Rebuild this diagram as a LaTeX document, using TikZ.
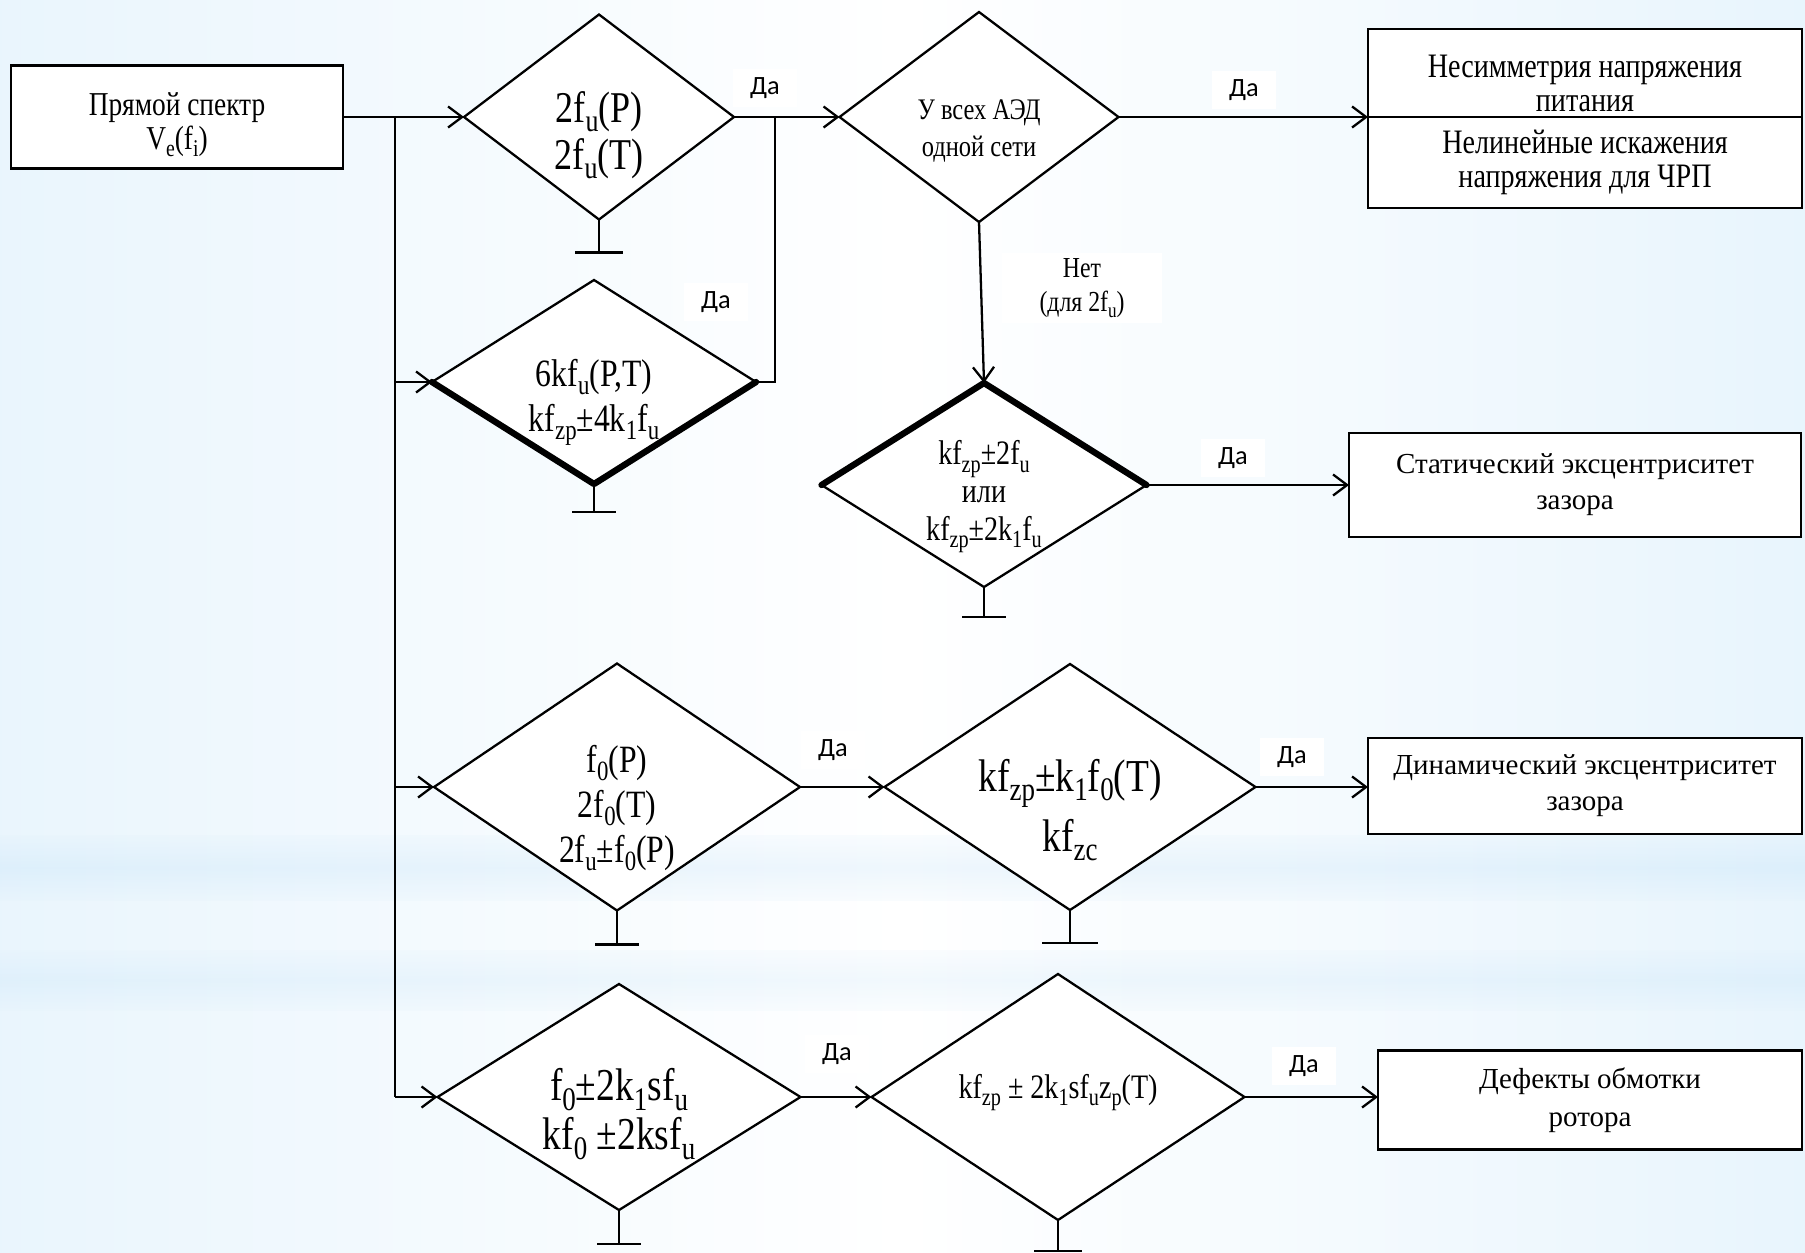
\documentclass[tikz,border=0pt]{standalone}
\usepackage{fontspec}
\setmainfont{Liberation Serif}
\newfontfamily\condfont[FakeStretch=0.82]{Liberation Serif}
\newfontfamily\dafont{Carlito}
\usetikzlibrary{arrows.meta,shapes.geometric,calc}
\newlength\pxu
\setlength\pxu{0.02cm}
\newcommand\sub[1]{\raisebox{-0.45ex}{\scalebox{0.72}{#1}}}
\newcommand\fsz[2]{\fontsize{#1}{#2}\selectfont}
\definecolor{bgblue}{RGB}{166,212,245}
\definecolor{bgpale}{RGB}{224,241,252}
\pgfdeclarehorizontalshading{bgside}{100bp}{color(0bp)=(bgblue); color(14bp)=(bgpale); color(50bp)=(white); color(84bp)=(bgpale); color(100bp)=(bgblue)}
\tikzset{
    dia/.style={draw, diamond, line width=1.3pt, fill=white, inner sep=0pt, outer sep=0pt, aspect=1.4},
    dtext/.style={align=center, inner sep=0pt},
    box/.style={draw, rectangle, line width=1.6pt, fill=white, inner sep=0pt, outer sep=0pt, align=center},
    yes/.style={fill=white, font=\dafont\fsz{15}{18}, minimum width=64\pxu, minimum height=38\pxu, inner sep=0pt},
    link/.style={line width=1.3pt},
    arr/.style={line width=1.3pt, -{Straight Barb[length=8pt, width=12pt]}},
    heavy/.style={line width=3.6pt, line cap=round, line join=round},
    ground/.style={line width=1.5pt}
}

\begin{document}
\begin{tikzpicture}[x=0.02cm, y=-0.02cm]
    % background
    \shade[shading=bgside] (0,0) rectangle (1805,1252);
    \shade[top color=bgpale, bottom color=bgpale, middle color=bgblue, opacity=0.18] (0,835) rectangle (1805,900);
    \shade[top color=bgpale, bottom color=bgpale, middle color=bgblue, opacity=0.15] (0,950) rectangle (1805,1010);
    \useasboundingbox (0,0) rectangle (1805,1252);

    % input
    \node[box, minimum width=332\pxu, minimum height=103\pxu, font=\condfont\fsz{19}{19.5}] (start) at (177,117) {\rule{0pt}{22pt}Прямой спектр\\V\sub{e}(f\sub{i})};

    % row 1
    \node[dia, minimum width=270\pxu, minimum height=205\pxu] (d1) at (599,117) {};
    \node[dtext, font=\condfont\fsz{25}{27}] (d1t) at ([yshift=-18\pxu]d1.center) {2f\sub{u}(P)\\2f\sub{u}(T)};
    \node[dia, minimum width=279\pxu, minimum height=210\pxu] (d2) at (979,117) {};
    \node[dtext, font=\condfont\fsz{17}{21.6}] (d2t) at ([yshift=-14\pxu]d2.center) {У всех АЭД\\одной сети};
    \node[box, minimum width=434\pxu, minimum height=88\pxu, font=\condfont\fsz{19.5}{19.5}] (b1a) at (1585,73) {\rule{0pt}{25pt}Несимметрия напряжения\\питания};
    \node[box, minimum width=434\pxu, minimum height=91\pxu, font=\condfont\fsz{19.5}{19.5}] (b1b) at (1585,162.5) {Нелинейные искажения\\напряжения для ЧРП};

    % row 2
    \node[dia, minimum width=324\pxu, minimum height=204\pxu] (d3) at (594,382) {};
    \node[dtext, font=\condfont\fsz{22}{25.6}] (d3t) at ([yshift=-20\pxu]d3.center) {6kf\sub{u}(P,T)\\kf\sub{zp}±4k\sub{1}f\sub{u}};
    \node[dia, minimum width=325\pxu, minimum height=204\pxu] (d4) at (984,485) {};
    \node[dtext, font=\condfont\fsz{19.5}{21.6}] (d4t) at ([yshift=-12\pxu]d4.center) {kf\sub{zp}±2f\sub{u}\\или\\kf\sub{zp}±2k\sub{1}f\sub{u}};
    \node[box, minimum width=452\pxu, minimum height=104\pxu, font=\fsz{16.5}{20.5}] (b2) at (1575,485) {Статический эксцентриситет\\зазора};

    % row 3
    \node[dia, minimum width=366\pxu, minimum height=247\pxu] (d5) at (617,787) {};
    \node[dtext, font=\condfont\fsz{22}{25.6}] (d5t) at ([yshift=-21\pxu]d5.center) {f\sub{0}(P)\\2f\sub{0}(T)\\2f\sub{u}±f\sub{0}(P)};
    \node[dia, minimum width=371\pxu, minimum height=246\pxu] (d6) at (1070,787) {};
    \node[dtext, font=\condfont\fsz{26}{34}] (d6t) at ([yshift=-23\pxu]d6.center) {kf\sub{zp}±k\sub{1}f\sub{0}(T)\\kf\sub{zc}};
    \node[box, minimum width=434\pxu, minimum height=96\pxu, font=\fsz{16.5}{20.5}] (b3) at (1585,786) {Динамический эксцентриситет\\зазора};

    % row 4
    \node[dia, minimum width=363\pxu, minimum height=226\pxu] (d7) at (619,1097) {};
    \node[dtext, font=\condfont\fsz{26}{28}] (d7t) at ([yshift=-17\pxu]d7.center) {f\sub{0}±2k\sub{1}sf\sub{u}\\kf\sub{0} ±2ksf\sub{u}};
    \node[dia, minimum width=373\pxu, minimum height=246\pxu] (d8) at (1058,1097) {};
    \node[dtext, font=\condfont\fsz{19.5}{21}] (d8t) at ([yshift=4\pxu]d8.center) {kf\sub{zp} ± 2k\sub{1}sf\sub{u}z\sub{p}(T)};
    \node[box, minimum width=424\pxu, minimum height=99\pxu, font=\fsz{16.5}{21.6}] (b4) at (1590,1100) {Дефекты обмотки\\ротора};

    \coordinate (tr) at (395,117);
    \coordinate (jn) at (775,117);

    % connectors
    \draw[arr] (start.east) -- (d1.west);
    \draw[link] (tr) -- (tr |- d7.west);
    \draw[arr] (tr |- d3.west) -- (d3.west);
    \draw[arr] (tr |- d5.west) -- (d5.west);
    \draw[arr] (tr |- d7.west) -- (d7.west);
    \draw[arr] (d1.east) -- (d2.west);
    \draw[link] (d3.east) -| (jn);
    \draw[arr] (d2.east) -- (d2.east -| b1a.west);
    \draw[arr] (d2.south) -- (d4.north);
    \draw[arr] (d4.east) -- (b2.west);
    \draw[arr] (d5.east) -- (d6.west);
    \draw[arr] (d6.east) -- (d6.east -| b3.west);
    \draw[arr] (d7.east) -- (d8.west);
    \draw[arr] (d8.east) -- (d8.east -| b4.west);

    % heavy edges
    \draw[heavy] (d3.west) -- (d3.south) -- (d3.east);
    \draw[heavy] (d4.west) -- (d4.north) -- (d4.east);

    % grounds
    \foreach \d/\s/\w in {d1/33/24, d3/28/22, d4/30/22, d5/34/22, d6/33/28, d7/34/22, d8/31/24}
        \draw[ground] (\d.south) -- ++(0,\s) ++(-\w,0) -- ++(2*\w,0);

    % labels
    \node[yes] (y1) at (765,88) {Да};
    \node[yes] (y2) at (716,302) {Да};
    \node[yes] (y3) at (1244,90) {Да};
    \node[yes] (y4) at (1233,458) {Да};
    \node[yes] (y5) at (833,750) {Да};
    \node[yes] (y6) at (1292,757) {Да};
    \node[yes] (y7) at (837,1054) {Да};
    \node[yes] (y8) at (1304,1066) {Да};
    \node[fill=white, align=center, inner sep=0pt, minimum width=160\pxu, minimum height=70\pxu, font=\condfont\fsz{16.5}{19}] (no) at (1082,288) {Нет\\(для 2f\sub{u})};
\end{tikzpicture}
\end{document}
